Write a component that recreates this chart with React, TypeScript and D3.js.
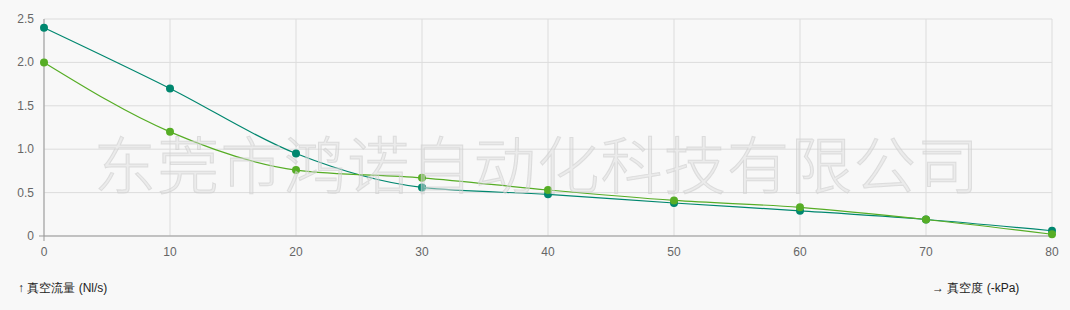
import React from "react";
import * as d3 from "d3";

const xValues = [0, 10, 20, 30, 40, 50, 60, 70, 80];
const seriesA = [2.4, 1.7, 0.95, 0.56, 0.48, 0.38, 0.29, 0.19, 0.06];
const seriesB = [2.0, 1.2, 0.76, 0.67, 0.53, 0.41, 0.33, 0.19, 0.02];
const yTicks = [0, 0.5, 1.0, 1.5, 2.0, 2.5];
const xTicks = [0, 10, 20, 30, 40, 50, 60, 70, 80];
const yLabel = "↑ 真空流量 (Nl/s)";
const xLabel = "→ 真空度 (-kPa)";
const watermark = "东莞市鸿诺自动化科技有限公司";

const W = 1070, H = 310;
const left = 44, right = 1052, top = 19, bottom = 236;

export default function App() {
  const x = d3.scaleLinear().domain([0, 80]).range([left, right]);
  const y = d3.scaleLinear().domain([0, 2.5]).range([bottom, top]);
  const line = d3.line<number>().x((_, i) => x(xValues[i])).y((d) => y(d)).curve(d3.curveMonotoneX);
  const series = [
    { data: seriesA, color: "#00876f" },
    { data: seriesB, color: "#56ad25" },
  ];
  const fmt = (v: number) => (v === 0 ? "0" : v.toFixed(1));
  return (
    <svg width={W} height={H} style={{ position: "absolute", left: 0, top: 0, background: "#f8f8f8" }}
      fontFamily="'Liberation Sans', Arial, sans-serif">
      <rect x={0} y={0} width={W} height={H} fill="#f8f8f8" />
      {yTicks.map((t) => (
        <line key={"gy" + t} x1={left} x2={right} y1={y(t)} y2={y(t)} stroke="#dcdcdc" strokeWidth={1} />
      ))}
      {xTicks.map((t) => (
        <line key={"gx" + t} x1={x(t)} x2={x(t)} y1={top} y2={bottom} stroke="#dcdcdc" strokeWidth={1} />
      ))}
      <line x1={left} x2={left} y1={top} y2={bottom + 5} stroke="#999" strokeWidth={1} />
      <line x1={left - 5} x2={right} y1={bottom} y2={bottom} stroke="#999" strokeWidth={1} />
      {yTicks.map((t) => (
        <text key={"ty" + t} x={left - 10} y={y(t) + 4} textAnchor="end" fontSize={12} fill="#666">{fmt(t)}</text>
      ))}
      {xTicks.map((t) => (
        <text key={"tx" + t} x={x(t)} y={bottom + 20} textAnchor="middle" fontSize={12} fill="#666">{t}</text>
      ))}
      {series.map((s, si) => (
        <g key={si}>
          <path d={line(s.data) || ""} fill="none" stroke={s.color} strokeWidth={1.2} />
          {s.data.map((d, i) => (
            <circle key={i} cx={x(xValues[i])} cy={y(d)} r={4} fill={s.color} />
          ))}
        </g>
      ))}
      <text x={(93 + 978) / 2 + 1} y={189} textAnchor="middle" fontSize={62}
        fontFamily="'Noto Sans CJK SC', sans-serif" fontWeight={300}
        fill="#dcdcdc" fillOpacity={0.45} stroke="#cfcfcf" strokeOpacity={0.6} strokeWidth={1}
        textLength={885} lengthAdjust="spacing">{watermark}</text>
      <text x={18} y={292} fontSize={12} fill="#222">{yLabel}</text>
      <text x={932} y={292} fontSize={12} fill="#222">{xLabel}</text>
    </svg>
  );
}
